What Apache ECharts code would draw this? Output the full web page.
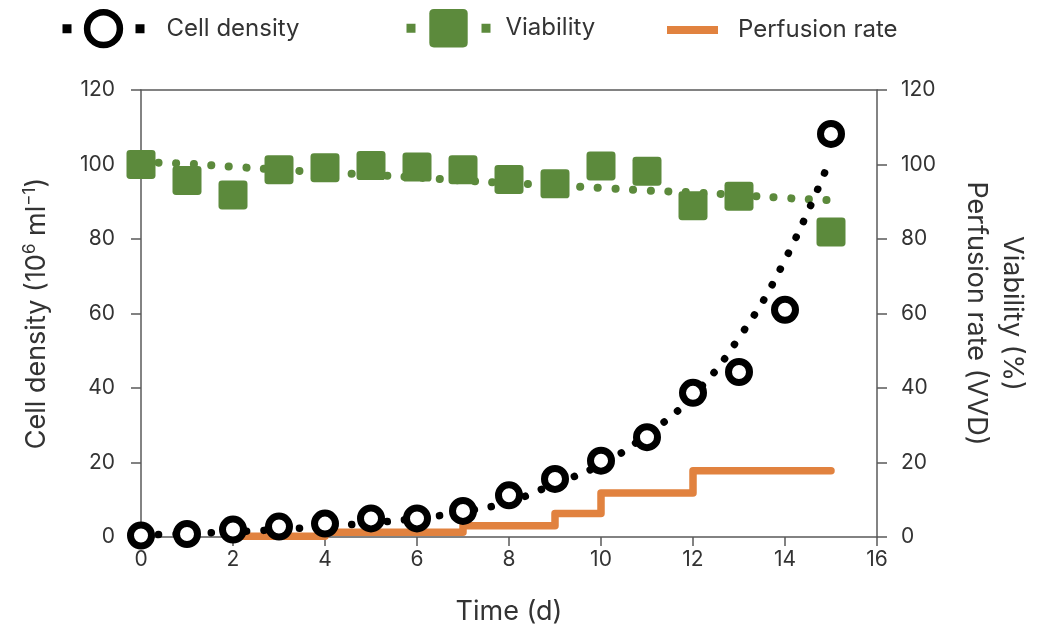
<!DOCTYPE html>
<html>
<head>
<meta charset="utf-8">
<script src="https://cdn.jsdelivr.net/npm/echarts@6/dist/echarts.min.js"></script>
<style>
html,body{margin:0;padding:0;background:#fff;}
#chart{width:1038px;height:634px;}
</style>
</head>
<body>
<div id="chart"></div>
<script>
// ---- data ----
const days = [0, 1, 2, 3, 4, 5, 6, 7, 8, 9, 10, 11, 12, 13, 14, 15];
const cellDensity = [0.4, 0.8, 2.0, 2.8, 3.6, 5.0, 5.0, 7.0, 11.2, 15.6, 20.5, 26.8, 38.7, 44.3, 61.0, 108.2];
const cellDensityFit = [0.5, 0.9, 1.4, 2.0, 2.8, 3.8, 5.0, 6.8, 9.5, 14.3, 19.5, 27.5, 38.0, 53.5, 74.4, 102.0];
const viabilityDays = [0, 1, 2, 3, 4, 5, 6, 7, 8, 9, 10, 11, 12, 13, 15];
const viability = [100, 95.7, 91.8, 98.6, 99.1, 99.7, 99.3, 98.6, 96.0, 94.8, 99.6, 98.2, 88.9, 91.5, 81.9];
const viabilityFit = [100.6, 100.2, 99.4, 98.6, 97.9, 97.2, 96.5, 95.7, 95.0, 94.4, 93.7, 93.0, 92.5, 91.8, 91.0, 90.4];
const perfusionDays = [2, 4, 7, 9, 10, 12, 15];
const perfusionRate = [0.2, 1.3, 3.0, 6.3, 11.8, 17.8, 17.8];
const xTicks = [0, 2, 4, 6, 8, 10, 12, 14, 16];
const yTicks = [0, 20, 40, 60, 80, 100, 120];

// ---- styles ----
const FONT = 'Inter';
const TEXT = '#333333';
const AXIS = '#5a5a5a';
const GREEN = '#5c8a3c';
const ORANGE = '#e1823f';
const SQUARE = 'path://M12,0H88Q100,0,100,12V88Q100,100,88,100H12Q0,100,0,88V12Q0,0,12,0Z';

const pairs = (xs, ys) => xs.map((x, i) => [x, ys[i]]);

const axisLineStyle = {color: AXIS, width: 1.5};

const chart = echarts.init(document.getElementById('chart'), null, {renderer: 'canvas'});
const option = {
  animation: false,
  backgroundColor: '#fff',
  textStyle: {fontFamily: FONT},
  grid: {left: 141, right: 160, top: 90, bottom: 97, containLabel: false},
  legend: [
    {
      left: 58, top: 9, padding: 0, itemWidth: 82, itemHeight: 41, selectedMode: false,
      data: [{name: 'Cell density', itemStyle: {borderWidth: 6.5}}],
      lineStyle: {color: '#000', width: 9, type: [9, 64], cap: 'butt', opacity: 1},
      textStyle: {fontSize: 24, color: TEXT, fontFamily: FONT, padding: [0, 0, 0, 17]}
    },
    {
      left: 402, top: 9, padding: 0, itemWidth: 84, itemHeight: 48, selectedMode: false,
      data: [{name: 'Viability'}],
      lineStyle: {color: GREEN, width: 9, type: [9, 66], cap: 'butt', opacity: 1},
      textStyle: {fontSize: 24, color: TEXT, fontFamily: FONT, padding: [0, 0, 0, 10]}
    },
    {
      left: 667, top: 18, padding: 0, itemWidth: 51, itemHeight: 8, selectedMode: false,
      data: [{name: 'Perfusion rate', icon: 'rect', itemStyle: {color: ORANGE, borderWidth: 0}}],
      textStyle: {fontSize: 24, color: TEXT, fontFamily: FONT, padding: [0, 0, 0, 15]}
    }
  ],
  xAxis: [
    {
      type: 'value', min: xTicks[0], max: xTicks[xTicks.length - 1], interval: 2,
      name: 'Time (d)', nameLocation: 'middle', nameGap: 61,
      nameTextStyle: {fontSize: 27, color: TEXT, fontFamily: FONT},
      axisLine: {show: true, onZero: false, lineStyle: axisLineStyle},
      axisTick: {show: true, inside: false, length: 9, lineStyle: axisLineStyle},
      axisLabel: {fontSize: 21, color: TEXT, fontFamily: FONT, margin: 12},
      splitLine: {show: false}
    },
    {
      type: 'value', position: 'top', min: xTicks[0], max: xTicks[xTicks.length - 1],
      axisLine: {show: true, onZero: false, lineStyle: axisLineStyle},
      axisTick: {show: false}, axisLabel: {show: false}, splitLine: {show: false}
    }
  ],
  yAxis: [
    {
      type: 'value', position: 'left', min: yTicks[0], max: yTicks[yTicks.length - 1], interval: 20,
      name: 'Cell density (10{sup|6} ml{sup|\u22121})', nameLocation: 'middle', nameGap: 88,
      nameTextStyle: {fontSize: 27, color: TEXT, fontFamily: FONT, lineHeight: 32,
        rich: {sup: {fontSize: 17, lineHeight: 17, verticalAlign: 'top', color: TEXT, fontFamily: FONT}}},
      axisLine: {show: true, onZero: false, lineStyle: axisLineStyle},
      axisTick: {show: true, inside: false, length: 10, lineStyle: axisLineStyle},
      axisLabel: {fontSize: 21, color: TEXT, fontFamily: FONT, margin: 26},
      splitLine: {show: false}
    },
    {
      type: 'value', position: 'right', min: yTicks[0], max: yTicks[yTicks.length - 1], interval: 20,
      name: 'Viability (%)\nPerfusion rate (VVD)', nameLocation: 'middle', nameGap: 81, nameRotate: -90,
      nameTextStyle: {fontSize: 27, color: TEXT, fontFamily: FONT, lineHeight: 36, align: 'center'},
      axisLine: {show: true, onZero: false, lineStyle: axisLineStyle},
      axisTick: {show: true, inside: false, length: 10, lineStyle: axisLineStyle},
      axisLabel: {fontSize: 21, color: TEXT, fontFamily: FONT, margin: 24},
      splitLine: {show: false}
    }
  ],
  series: [
    {
      name: 'Perfusion rate', type: 'line', yAxisIndex: 1, z: 2,
      data: pairs(perfusionDays, perfusionRate), step: 'end',
      symbol: 'none', color: ORANGE,
      lineStyle: {color: ORANGE, width: 7.5, cap: 'round', join: 'round'},
      emphasis: {disabled: true}, silent: true, clip: false
    },
    {
      name: 'Viability fit', type: 'line', yAxisIndex: 1, z: 3,
      data: pairs(days, viabilityFit), smooth: true, symbol: 'none', showSymbol: false,
      lineStyle: {color: GREEN, width: 8, type: [0.1, 17.5], cap: 'round'},
      emphasis: {disabled: true}, silent: true, clip: false
    },
    {
      name: 'Viability', type: 'line', yAxisIndex: 1, z: 4,
      data: pairs(viabilityDays, viability),
      symbol: SQUARE, symbolSize: 29, showSymbol: true, showAllSymbol: true,
      itemStyle: {color: GREEN, borderWidth: 0},
      lineStyle: {color: GREEN, opacity: 0, width: 1},
      emphasis: {disabled: true}, silent: true, clip: false
    },
    {
      name: 'Cell density fit', type: 'line', yAxisIndex: 0, z: 5,
      data: pairs(days, cellDensityFit), smooth: true, symbol: 'none', showSymbol: false,
      lineStyle: {color: '#000', width: 7.5, type: [0.1, 17.5], cap: 'round'},
      emphasis: {disabled: true}, silent: true, clip: false
    },
    {
      name: 'Cell density', type: 'line', yAxisIndex: 0, z: 6,
      data: pairs(days, cellDensity),
      symbol: 'circle', symbolSize: 21, showSymbol: true, showAllSymbol: true,
      itemStyle: {color: '#fff', borderColor: '#000', borderWidth: 7},
      lineStyle: {color: '#000', opacity: 0, width: 1},
      emphasis: {disabled: true}, silent: true, clip: false
    }
  ]
};
chart.setOption(option);
</script>
</body>
</html>
